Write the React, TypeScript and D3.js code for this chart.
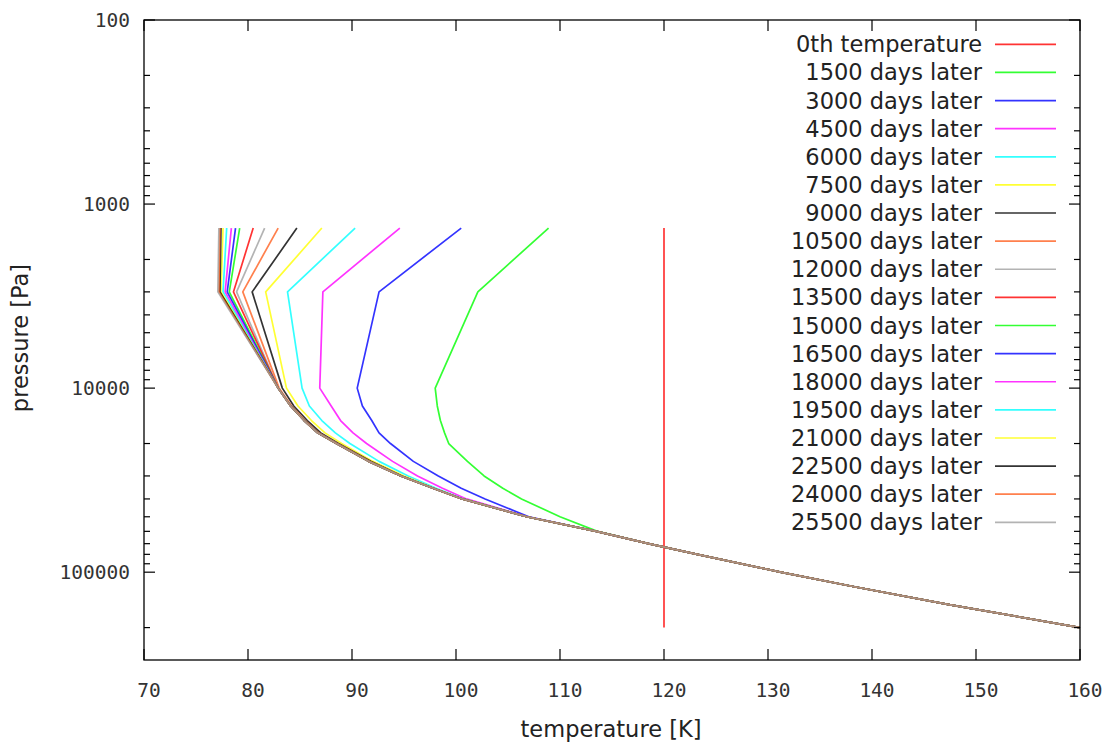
import React from 'react';
import * as d3 from 'd3';

const W = 1111;
const H = 742;

// pressure levels [Pa]
const pressureLevels = [1350, 3000, 10000, 12500, 15000, 17500, 20000, 25000, 30000, 35000, 40000, 50000, 60000, 70000, 80000, 100000, 120000, 150000, 200000];

// temperature profiles [K] on the levels above
const temp0th = [120, 120, 120, 120, 120, 120, 120, 120, 120, 120, 120, 120, 120, 120, 120, 120, 120, 120, 120];
const temp1500 = [108.9, 102.1, 98.0, 98.2, 98.5, 98.9, 99.3, 101.1, 102.7, 104.5, 106.3, 110.0, 113.6, 118.5, 123.2, 131.2, 138.3, 147.4, 160];
const temp3000 = [100.5, 92.6, 90.5, 91.0, 91.9, 92.6, 93.7, 95.9, 98.3, 100.5, 102.8, 107.0, 113.5, 118.5, 123.2, 131.2, 138.3, 147.4, 160];
const temp4500 = [94.6, 87.2, 86.9, 88.0, 88.9, 90.1, 91.4, 93.9, 96.3, 98.7, 101.0, 106.9, 113.5, 118.5, 123.2, 131.2, 138.3, 147.4, 160];
const temp6000 = [90.3, 83.8, 85.2, 85.9, 87.1, 88.4, 89.8, 92.6, 95.4, 98.1, 100.7, 106.8, 113.5, 118.5, 123.2, 131.2, 138.3, 147.4, 160];
const temp7500 = [87.1, 81.7, 83.7, 84.8, 86.1, 87.4, 89.0, 92.0, 95.0, 97.9, 100.6, 106.8, 113.5, 118.5, 123.2, 131.2, 138.3, 147.4, 160];
const temp9000 = [84.7, 80.4, 83.3, 84.4, 85.7, 87.0, 88.7, 91.8, 94.8, 97.8, 100.6, 106.8, 113.5, 118.5, 123.2, 131.2, 138.3, 147.4, 160];
const temp10500 = [82.9, 79.5, 83.0, 84.2, 85.5, 86.8, 88.6, 91.7, 94.7, 97.8, 100.6, 106.8, 113.5, 118.5, 123.2, 131.2, 138.3, 147.4, 160];
const temp12000 = [81.6, 78.9, 82.9, 84.1, 85.4, 86.7, 88.5, 91.6, 94.7, 97.8, 100.6, 106.8, 113.5, 118.5, 123.2, 131.2, 138.3, 147.4, 160];
const temp13500 = [80.5, 78.6, 82.9, 84.1, 85.4, 86.7, 88.5, 91.6, 94.7, 97.8, 100.6, 106.8, 113.5, 118.5, 123.2, 131.2, 138.3, 147.4, 160];
const temp15000 = [79.2, 78.2, 82.9, 84.1, 85.4, 86.7, 88.5, 91.6, 94.7, 97.8, 100.6, 106.8, 113.5, 118.5, 123.2, 131.2, 138.3, 147.4, 160];
const temp16500 = [78.8, 78.0, 82.9, 84.1, 85.4, 86.7, 88.5, 91.6, 94.7, 97.8, 100.6, 106.8, 113.5, 118.5, 123.2, 131.2, 138.3, 147.4, 160];
const temp18000 = [78.4, 77.8, 82.9, 84.1, 85.4, 86.7, 88.5, 91.6, 94.7, 97.8, 100.6, 106.8, 113.5, 118.5, 123.2, 131.2, 138.3, 147.4, 160];
const temp19500 = [77.95, 77.6, 82.9, 84.1, 85.4, 86.7, 88.5, 91.6, 94.7, 97.8, 100.6, 106.8, 113.5, 118.5, 123.2, 131.2, 138.3, 147.4, 160];
const temp21000 = [77.6, 77.4, 82.9, 84.1, 85.4, 86.7, 88.5, 91.6, 94.7, 97.8, 100.6, 106.8, 113.5, 118.5, 123.2, 131.2, 138.3, 147.4, 160];
const temp22500 = [77.4, 77.3, 82.9, 84.1, 85.4, 86.7, 88.5, 91.6, 94.7, 97.8, 100.6, 106.8, 113.5, 118.5, 123.2, 131.2, 138.3, 147.4, 160];
const temp24000 = [77.3, 77.2, 82.9, 84.1, 85.4, 86.7, 88.5, 91.6, 94.7, 97.8, 100.6, 106.8, 113.5, 118.5, 123.2, 131.2, 138.3, 147.4, 160];
const temp25500 = [77.2, 77.1, 82.9, 84.1, 85.4, 86.7, 88.5, 91.6, 94.7, 97.8, 100.6, 106.8, 113.5, 118.5, 123.2, 131.2, 138.3, 147.4, 160];

const seriesValues = [temp0th, temp1500, temp3000, temp4500, temp6000, temp7500, temp9000, temp10500, temp12000,
  temp13500, temp15000, temp16500, temp18000, temp19500, temp21000, temp22500, temp24000, temp25500];

const seriesLabels = ['0th temperature', '1500 days later', '3000 days later', '4500 days later', '6000 days later',
  '7500 days later', '9000 days later', '10500 days later', '12000 days later', '13500 days later', '15000 days later',
  '16500 days later', '18000 days later', '19500 days later', '21000 days later', '22500 days later', '24000 days later',
  '25500 days later'];

const palette = ['#ff0000', '#00ff00', '#0000ff', '#ff00ff', '#00ffff', '#ffff00', '#000000', '#ff6020', '#a0a0a0'];

const xTickValues = [70, 80, 90, 100, 110, 120, 130, 140, 150, 160];
const yTickValues = [100, 1000, 10000, 100000];

export default function App() {
  const left = 144, right = 1080, top = 20, bottom = 660;
  const x = d3.scaleLinear().domain([70, 160]).range([left, right]);
  const y = d3.scaleLog().domain([100, 300000]).range([top, bottom]);
  const line = d3.line<[number, number]>().x(d => x(d[0])).y(d => y(d[1]));

  const minorTicks = y.ticks().filter(v => !yTickValues.includes(v) && v > 100 && v < 300000);

  const tickFont = '"DejaVu Sans Mono", monospace';
  const textFont = '"DejaVu Sans", sans-serif';

  return (
    <svg width={W} height={H} style={{ position: 'absolute', left: 0, top: 0, background: '#fff' }}>
      <rect x={0} y={0} width={W} height={H} fill="#fff" />
      {/* series */}
      {seriesValues.map((vals, i) => (
        <path key={i}
          d={line(vals.map((t, j) => [t, pressureLevels[j]] as [number, number])) || ''}
          fill="none" stroke={palette[i % palette.length]} strokeWidth={1.7} strokeOpacity={0.8}
          strokeLinejoin="round" />
      ))}
      {/* frame */}
      <rect x={left} y={top} width={right - left} height={bottom - top} fill="none" stroke="#000" strokeWidth={1.3} />
      {/* x ticks */}
      {xTickValues.map(v => (
        <g key={'x' + v}>
          <line x1={x(v)} x2={x(v)} y1={bottom} y2={bottom - 11} stroke="#000" strokeWidth={1.2} />
          <line x1={x(v)} x2={x(v)} y1={top} y2={top + 11} stroke="#000" strokeWidth={1.2} />
          <text x={x(v) + 5} y={690} textAnchor="middle" dominantBaseline="central"
            fontFamily={tickFont} fontSize={19.5} fill="#333">{v}</text>
        </g>
      ))}
      {/* y major ticks */}
      {yTickValues.map(v => (
        <g key={'y' + v}>
          <line x1={left} x2={left + 11} y1={y(v)} y2={y(v)} stroke="#000" strokeWidth={1.2} />
          <line x1={right} x2={right - 11} y1={y(v)} y2={y(v)} stroke="#000" strokeWidth={1.2} />
          <text x={130} y={y(v)} textAnchor="end" dominantBaseline="central"
            fontFamily={tickFont} fontSize={19.5} fill="#333">{v}</text>
        </g>
      ))}
      {minorTicks.map(v => (
        <g key={'m' + v}>
          <line x1={left} x2={left + 6} y1={y(v)} y2={y(v)} stroke="#000" strokeWidth={1.2} />
          <line x1={right} x2={right - 6} y1={y(v)} y2={y(v)} stroke="#000" strokeWidth={1.2} />
        </g>
      ))}
      {/* axis labels */}
      <text x={611} y={729} textAnchor="middle" dominantBaseline="central"
        fontFamily={textFont} fontSize={22.5} fill="#222">temperature [K]</text>
      <text transform="translate(20,338) rotate(-90)" textAnchor="middle" dominantBaseline="central"
        fontFamily={textFont} fontSize={22.5} fill="#222">pressure [Pa]</text>
      {/* legend */}
      {seriesLabels.map((lab, i) => {
        const ly = 44.3 + i * 28.12;
        return (
          <g key={'l' + i}>
            <text x={982} y={ly} textAnchor="end" dominantBaseline="central"
              fontFamily={textFont} fontSize={22.5} fill="#222">{lab}</text>
            <line x1={995} x2={1056} y1={ly} y2={ly} stroke={palette[i % palette.length]} strokeWidth={1.7} strokeOpacity={0.8} />
          </g>
        );
      })}
    </svg>
  );
}
